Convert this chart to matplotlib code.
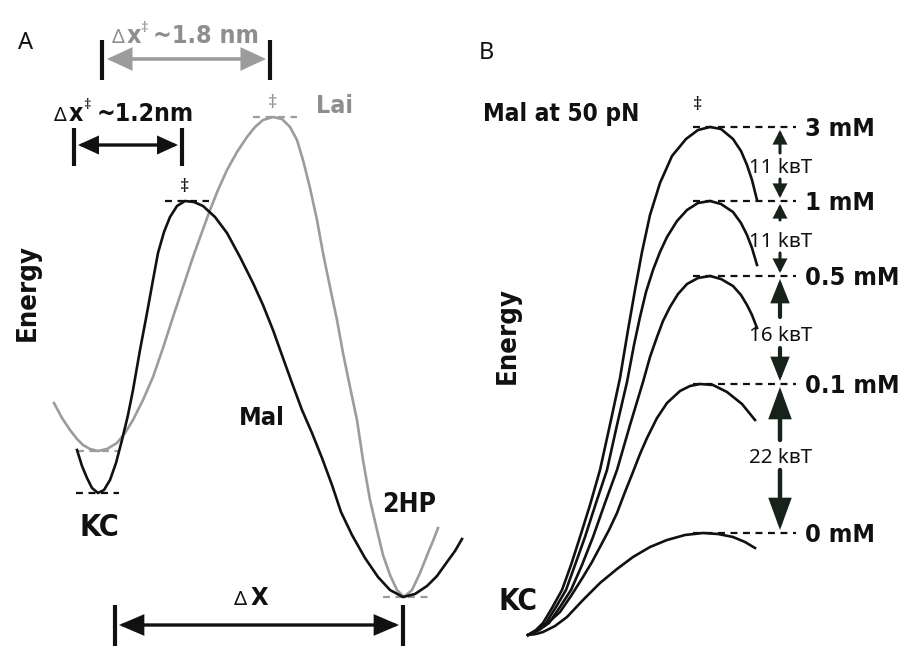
import matplotlib
matplotlib.use("Agg")
import matplotlib.pyplot as plt
from matplotlib import font_manager as fm
from matplotlib.patches import FancyArrowPatch

plt.rcParams["lines.scale_dashes"] = False

INK = "#111111"
GREY = "#9c9c9c"
GREY_TXT = "#8e8e8e"
ARR = "#17221b"
REG = dict(family=["Noto Sans", "DejaVu Sans"], weight="normal")

# narrowest bold sans that is installed (reference uses a condensed bold face)
_fonts = {(f.name, f.stretch) for f in fm.fontManager.ttflist}
_names = {n for n, _ in _fonts}
if "Liberation Sans Narrow" in _names:
    BOLD = dict(family="Liberation Sans Narrow", weight="bold")
elif "DejaVu Sans Condensed" in _names:
    BOLD = dict(family="DejaVu Sans Condensed", weight="bold")
elif ("DejaVu Sans", "condensed") in _fonts:
    BOLD = dict(family="DejaVu Sans", stretch="condensed", weight="bold")
else:
    BOLD = dict(family="Liberation Sans", weight="bold")

# ---------------------------------------------------------------------------
# Panel A: energy profiles (pixel space, y points down)
# ---------------------------------------------------------------------------
MAL_X = [77, 82, 87, 92, 98, 104, 110, 116, 122, 128, 133, 140, 147, 153, 158,
         164, 170, 177, 185, 194, 203, 215, 227, 240, 253, 263, 273, 283, 292,
         302, 312, 322, 332, 341, 352, 365, 378, 390, 403, 415, 427, 437, 447,
         455, 462]
MAL_Y = [450, 466, 478, 488, 493, 490, 480, 463, 440, 415, 390, 350, 313, 280,
         253, 232, 217, 206, 201, 202, 206, 217, 233, 257, 283, 305, 330, 358,
         383, 410, 433, 458, 485, 512, 535, 558, 577, 590, 597, 594, 586, 576,
         562, 551, 539]
LAI_X = [54, 62, 70, 77, 83, 90, 98, 107, 117, 125, 133, 143, 153, 163, 173,
         183, 193, 202, 210, 218, 227, 237, 247, 255, 263, 273, 282, 290, 297,
         303, 310, 317, 323, 330, 337, 343, 350, 357, 363, 370, 377, 383, 390,
         397, 404, 412, 420, 428, 433, 438]
LAI_Y = [403, 418, 430, 439, 445, 449, 451, 449, 443, 433, 420, 400, 377, 348,
         317, 287, 257, 232, 210, 190, 170, 152, 137, 127, 120, 117, 119, 127,
         140, 160, 188, 220, 253, 287, 320, 353, 387, 420, 460, 500, 530, 555,
         575, 590, 597, 590, 573, 553, 541, 528]

# ---------------------------------------------------------------------------
# Panel B: Mal at 50 pN, one profile per maltose concentration
# ---------------------------------------------------------------------------
B_LABELS = ["3 mM", "1 mM", "0.5 mM", "0.1 mM", "0 mM"]
B_PEAK_Y = [127, 201, 276, 384, 533]
B_GAPS = ["11", "11", "16", "22"]

B_3MM = [(528, 635), (536, 630), (543, 623), (552, 608), (562, 590), (571, 565),
         (580, 537), (590, 505), (600, 470), (611, 420), (620, 378), (628, 330),
         (635, 290), (642, 252), (650, 215), (660, 183), (672, 156), (686, 139),
         (698, 130), (710, 127), (721, 129), (733, 139), (741, 151), (747, 165),
         (752, 180), (757, 200)]
B_1MM = [(528, 635), (538, 630), (546, 623), (556, 607), (566, 590), (575, 565),
         (585, 537), (596, 503), (607, 470), (617, 425), (627, 382), (634, 345),
         (640, 317), (646, 292), (653, 270), (660, 252), (667, 237), (677, 221),
         (687, 210), (698, 203), (710, 201), (721, 204), (733, 212), (741, 223),
         (747, 235), (752, 248), (757, 265)]
B_05MM = [(528, 635), (539, 630), (549, 623), (560, 607), (571, 590), (582, 565),
          (593, 537), (605, 503), (617, 470), (630, 425), (643, 382), (650, 357),
          (657, 337), (663, 321), (670, 307), (678, 294), (687, 284), (698, 278),
          (710, 276), (721, 279), (733, 286), (741, 295), (747, 305), (752, 315),
          (757, 328)]
B_01MM = [(528, 635), (540, 629), (550, 621), (560, 612), (571, 596), (583, 577),
          (592, 562), (600, 547), (609, 530), (617, 513), (625, 492), (633, 472),
          (640, 454), (647, 438), (657, 418), (667, 403), (680, 391), (690, 386),
          (700, 384), (713, 385), (727, 392), (742, 404), (755, 420)]
B_0MM = [(528, 635), (536, 634), (543, 632), (555, 626), (567, 617), (583, 600),
         (600, 583), (617, 569), (633, 557), (650, 547), (667, 540), (685, 535),
         (703, 533), (718, 534), (733, 537), (745, 542), (755, 548)]

# arrows between levels: shaft start of up / down arrow and label height
GAP_UP = [153, 220, 317, 440]
GAP_DN = [179, 253, 348, 470]
GAP_TXT = [168, 242, 336, 458]
GAP_HEAD = [(7, 3.6, 2.2), (7, 3.6, 2.2), (12, 4.8, 3.0), (17, 6.2, 3.2)]


fig = plt.figure(figsize=(9.01, 6.48), dpi=100)
ax = fig.add_axes([0, 0, 1, 1])
ax.set_xlim(0, 901); ax.set_ylim(648, 0); ax.axis("off")
R = fig.canvas.get_renderer()


def _t(x, y, s, fs, color=INK, props=BOLD, ha="center", va="center", rot=0):
    return ax.text(x, y, s, fontsize=fs, color=color, ha=ha, va=va,
                   rotation=rot, zorder=5, **props)


def _fit(x, y, s, target, color=INK, props=BOLD, ha="center", va="center",
         rot=0):
    """Text scaled so that its long side spans `target` pixels."""
    t = _t(x, y, s, 20, color, props, ha, va, rot)
    bb = t.get_window_extent(renderer=R)
    size = bb.height if rot else bb.width
    t.set_fontsize(20 * target / size)
    return t.get_fontsize()


def _arrow(a, b, color=INK, lw=2.2, hl=12, hw=5, style="<|-|>"):
    ax.add_patch(FancyArrowPatch(a, b, arrowstyle=f"{style},head_length={hl},head_width={hw}",
                 linewidth=lw, color=color, shrinkA=0, shrinkB=0, zorder=4,
                 mutation_scale=1, joinstyle="miter"))


def _bar(x, y0, y1):
    ax.plot([x, x], [y0, y1], color=INK, lw=3.0, solid_capstyle="butt", zorder=4)


def _dash(x0, x1, y, color=INK, lw=1.6):
    ax.plot([x0, x1], [y, y], color=color, lw=lw, dashes=(5, 4), zorder=2)


# ============================ panel A =======================================
_t(26, 43, "A", 17, props=REG)

ax.plot(LAI_X, LAI_Y, color=GREY, lw=1.9, zorder=3)
ax.plot(MAL_X, MAL_Y, color=INK, lw=1.9, zorder=3)

_dash(253, 297, min(LAI_Y), GREY)
_dash(77, 119, LAI_Y[LAI_X.index(98)], GREY)
_dash(383, 429, max(LAI_Y), GREY)
_dash(165, 209, min(MAL_Y))
_dash(76, 119, MAL_Y[MAL_X.index(98)])

_t(273, 103, "\u2021", 13, GREY_TXT, REG)
_t(185, 187, "\u2021", 13, INK, REG)

# delta x (Lai)
fs = _fit(153, 43, "~1.8 nm", 106, GREY_TXT, ha="left", va="baseline")
_t(112, 43, "\u0394", fs * 0.8, GREY_TXT, REG, ha="left", va="baseline")
_t(127, 43, "x", fs, GREY_TXT, ha="left", va="baseline")
_t(140, 32, "\u2021", fs * 0.6, GREY_TXT, REG, ha="left", va="baseline")
_bar(102, 40, 80); _bar(270, 40, 80)
_arrow((107, 59), (266, 59), GREY, lw=2.6, hl=14, hw=6.5)

# delta x (Mal)
fs = _fit(97, 121, "~1.2nm", 97, ha="left", va="baseline")
_t(54, 121, "\u0394", fs * 0.8, INK, REG, ha="left", va="baseline")
_t(69, 121, "x", fs, ha="left", va="baseline")
_t(83, 109, "\u2021", fs * 0.6, INK, REG, ha="left", va="baseline")
_bar(74, 128, 166); _bar(182, 128, 166)
_arrow((78, 145), (178, 145), INK, lw=2.4, hl=11, hw=5)

_fit(335, 106, "Lai", 37, GREY_TXT)
fs = _fit(262, 418, "Mal", 46)
_fit(99, 527, "KC", 40)
_fit(409, 505, "2HP", 54)
_fit(28, 293, "Energy", 97, rot=90)

# delta X (total)
_t(234, 605, "\u0394", fs * 0.8, INK, REG, ha="left", va="baseline")
_t(251, 605, "X", fs, ha="left", va="baseline")
_bar(115, 605, 646); _bar(403, 605, 646)
_arrow((119, 625), (399, 625), INK, lw=2.4, hl=14, hw=6)

# ============================ panel B =======================================
_t(486, 53, "B", 17, props=REG)
_fit(561, 114, "Mal at 50 pN", 156)
_fit(508, 336, "Energy", 97, rot=90)
_fit(518, 601, "KC", 39)
_t(698, 105, "\u2021", 13, INK, REG)

for pts in (B_3MM, B_1MM, B_05MM, B_01MM, B_0MM):
    xs, ys = zip(*pts)
    ax.plot(xs, ys, color=INK, lw=1.9, zorder=3, solid_joinstyle="round")

fs = _fit(805, B_PEAK_Y[2] + 2, B_LABELS[2], 94, ha="left")
for lab, y in zip(B_LABELS, B_PEAK_Y):
    _dash(693, 796, y)
    if lab != B_LABELS[2]:
        _t(805, y + 2, lab, fs, ha="left")

# barrier differences between consecutive concentrations
XA = 780
for i, g in enumerate(B_GAPS):
    top, bot = B_PEAK_Y[i], B_PEAK_Y[i + 1]
    hl, hw, lw = GAP_HEAD[i]
    _arrow((XA, GAP_UP[i]), (XA, top + 3), ARR, lw=lw, hl=hl, hw=hw, style="-|>")
    _arrow((XA, GAP_DN[i]), (XA, bot - 3), ARR, lw=lw, hl=hl, hw=hw, style="-|>")
    _fit(XA + 1, GAP_TXT[i], f"{g} k\u0299T", 63, props=REG)

fig.savefig("out.png", dpi=100)
